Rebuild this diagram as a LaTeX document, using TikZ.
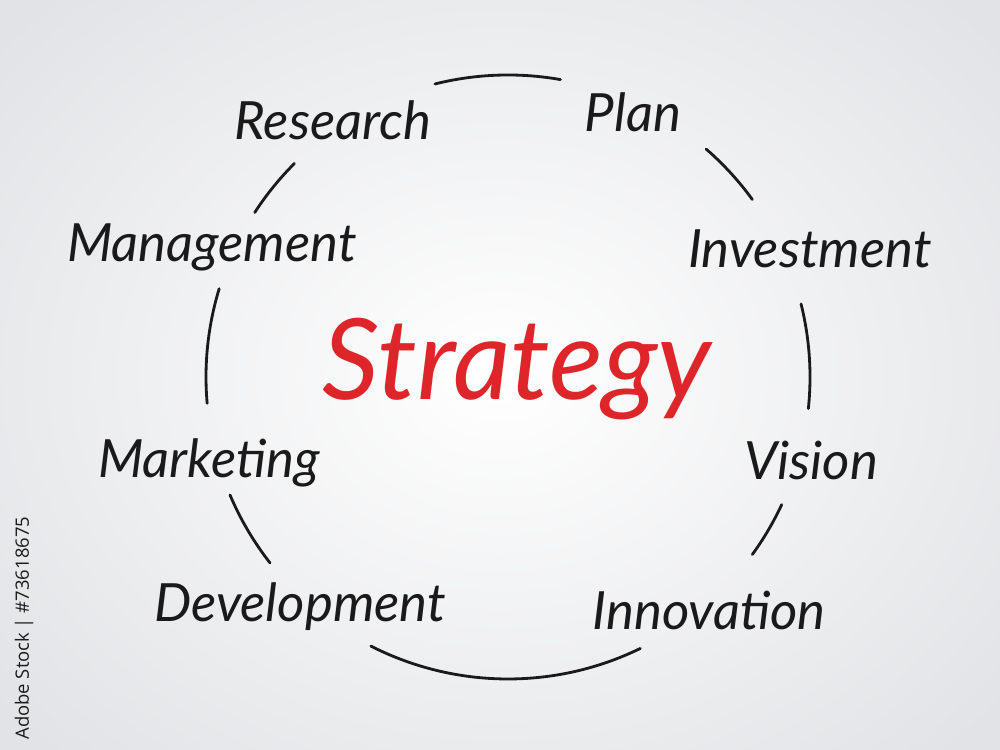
\documentclass[tikz,border=0pt]{standalone}
\usepackage{fontspec}
\setmainfont{Lato}
\newfontfamily\stockfont{Open Sans}
\usetikzlibrary{positioning}
\definecolor{inkred}{RGB}{222,38,42}
\definecolor{ink}{RGB}{26,26,26}
\definecolor{paper}{RGB}{226,227,230}
\tikzstyle{every picture} = [x=0.02cm, y=0.02cm]
\tikzstyle{word} = [text=ink, font=\fontsize{30}{33}\selectfont\itshape, anchor=base, inner sep=0pt]
\tikzstyle{ring} = [draw=ink, line width=1.6pt, line cap=round]

\begin{document}
\begin{tikzpicture}
            \useasboundingbox (0,0) rectangle (1000,750);
            \shade[inner color=white, outer color=paper] (-150,-150) rectangle (1150,900);
            \coordinate (hub) at (508,373);

            \node (strategy) [word, text=inkred, font=\fontsize{64}{70}\selectfont\itshape] at (517,350) {Strategy};
            \node (research) [word] at (333,610) {Research};
            \node (plan) [word] at (633,618) {Plan};
            \node (management) [word] at (212,488) {Management};
            \node (investment) [word] at (810,482) {Investment};
            \node (marketing) [word] at (209,272) {Marketing};
            \node (vision) [word] at (811,270) {Vision};
            \node (development) [word] at (300,128) {Development};
            \node (innovation) [word] at (709,120) {Innovation};

            \foreach \from/\to in {80/104, 36/49, -6/14, -36/-25, -117/-64, -157/-142, 163/185, 135/147}
                \draw[ring] (hub) ++(\from:302) arc[start angle=\from, end angle=\to, radius=6.04cm];

            \node (stock) [text=ink, font=\stockfont\fontsize{10.5}{12}\selectfont, rotate=90, anchor=west, inner sep=0pt] at (24,10) {Adobe Stock | \#73618675};
        \end{tikzpicture}
\end{document}
